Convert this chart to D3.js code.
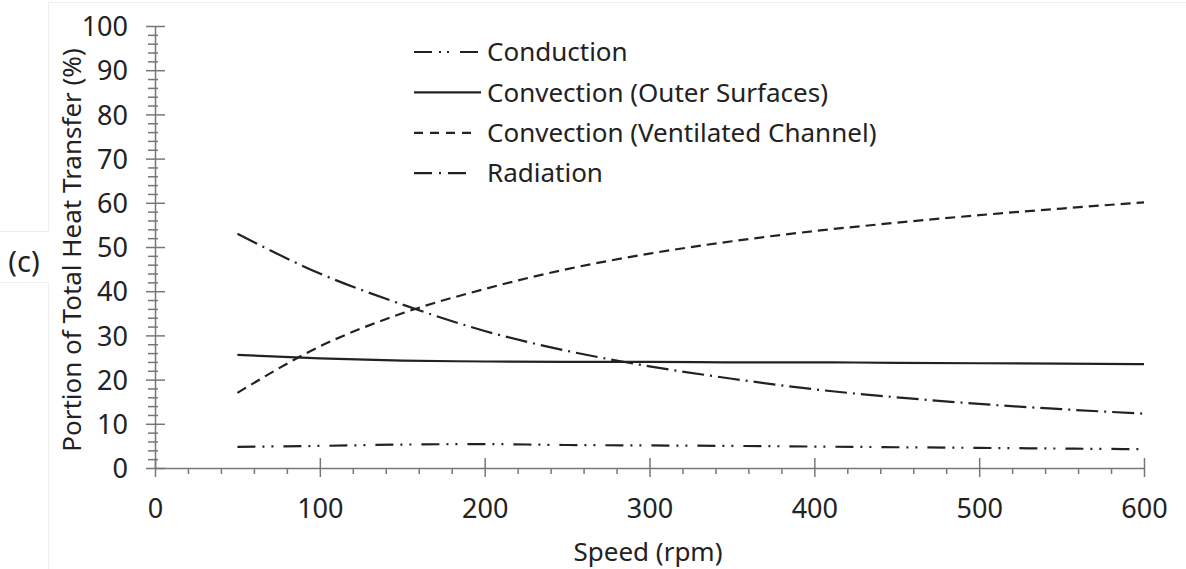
<!DOCTYPE html>
<meta charset="utf-8">
<style>
body { margin: 0; background: #fff; }
svg { font-family: "Noto Sans", sans-serif; }
.curve { fill: none; stroke: #222; stroke-width: 2.2px; }
.axis path, .axis line { stroke: #777; stroke-width: 1.5px; }
.axis text { font-family: "Noto Sans", sans-serif; font-size: 27px; fill: #222; }
.frame { stroke: #eee; stroke-width: 1px; }
</style>
<body>
<div id="chart"></div>
</body>
<script src="https://d3js.org/d3.v7.min.js"></script>
<script>

// values
var speeds = [50, 100, 150, 200, 250, 300, 350, 400, 450, 500, 550, 600];
var conduction = [4.8, 5.0, 5.3, 5.4, 5.2, 5.1, 5.0, 4.85, 4.7, 4.55, 4.4, 4.25];
var convOuter = [25.6, 24.8, 24.3, 24.1, 24.0, 24.0, 23.9, 23.9, 23.8, 23.7, 23.6, 23.5];
var convVent = [17.0, 27.5, 35.0, 40.5, 45.0, 48.5, 51.3, 53.6, 55.5, 57.2, 58.7, 60.1];
var radiation = [53.0, 44.0, 37.0, 31.0, 26.5, 23.0, 20.2, 17.8, 16.0, 14.5, 13.3, 12.3];

var seriesNames = ["Conduction", "Convection (Outer Surfaces)", "Convection (Ventilated Channel)", "Radiation"];
var seriesValues = [conduction, convOuter, convVent, radiation];
var dashes = ["18,7,2,7,2,10", null, "10,6", "22,6,2,6"];
var legendDashes = ["18,7,2,6,2,11", null, "9,7", "18,7,2,7"];
var legendLen = [67, 67, 64, 57];

var xTicks = [0, 100, 200, 300, 400, 500, 600];
var yTicks = [0, 10, 20, 30, 40, 50, 60, 70, 80, 90, 100];

var W = 1186, H = 569;
var x = d3.scaleLinear().domain([0, 600]).range([155, 1144]);
var y = d3.scaleLinear().domain([0, 100]).range([468, 26]);

var svg = d3.select("#chart").append("svg")
    .attr("width", W)
    .attr("height", H);

// faint frame lines from the pasted figure
svg.append("line").attr("class", "frame").attr("x1", 48).attr("x2", W).attr("y1", 2.5).attr("y2", 2.5);
svg.append("line").attr("class", "frame").attr("x1", 48.5).attr("x2", 48.5).attr("y1", 2).attr("y2", 231);
svg.append("line").attr("class", "frame").attr("x1", 0).attr("x2", 48).attr("y1", 231.5).attr("y2", 231.5);
svg.append("line").attr("class", "frame").attr("x1", 0).attr("x2", 48).attr("y1", 282.5).attr("y2", 282.5);
svg.append("line").attr("class", "frame").attr("x1", 48.5).attr("x2", 48.5).attr("y1", 282).attr("y2", H);

// minor ticks
var yMinor = d3.range(0, 101, 2).filter(function(d) { return d % 10 != 0; });
var xMinor = d3.range(0, 601, 20).filter(function(d) { return d % 100 != 0; });

var yMinorG = svg.append("g")
    .attr("class", "axis")
    .attr("transform", "translate(" + x(0) + ",0)")
    .call(d3.axisLeft(y).tickValues(yMinor).tickSize(7).tickFormat(""));
yMinorG.select(".domain").remove();
yMinorG.selectAll(".tick line").attr("x1", 3);

var xMinorG = svg.append("g")
    .attr("class", "axis")
    .attr("transform", "translate(0," + y(0) + ")")
    .call(d3.axisBottom(x).tickValues(xMinor).tickSize(6).tickFormat(""));
xMinorG.select(".domain").remove();

// y axis
var yAxisG = svg.append("g")
    .attr("class", "axis")
    .attr("transform", "translate(" + x(0) + ",0)")
    .call(d3.axisLeft(y).tickValues(yTicks).tickSize(9).tickSizeOuter(0).tickPadding(18));
yAxisG.selectAll(".tick line").attr("x1", 10);
yAxisG.selectAll(".tick text").attr("dy", "0.36em");

// x axis
var xAxisG = svg.append("g")
    .attr("class", "axis")
    .attr("transform", "translate(0," + y(0) + ")")
    .call(d3.axisBottom(x).tickValues(xTicks).tickSize(9).tickSizeOuter(0).tickPadding(15));
xAxisG.selectAll(".tick line").attr("y1", -10);
xAxisG.selectAll(".tick text").attr("dy", "0.95em");

// curves
var line = d3.line()
    .curve(d3.curveMonotoneX)
    .x(function(d, i) { return x(speeds[i]); })
    .y(function(d) { return y(d); });

svg.selectAll(".curve")
    .data(seriesValues)
  .enter().append("path")
    .attr("class", "curve")
    .attr("stroke-dasharray", function(d, i) { return dashes[i]; })
    .attr("d", line);

// legend
var legend = svg.append("g")
    .attr("transform", "translate(414,52)")
  .selectAll("g")
    .data(seriesNames)
  .enter().append("g")
    .attr("transform", function(d, i) { return "translate(0," + (i * 40.4) + ")"; });

legend.append("line")
    .attr("x1", 0)
    .attr("x2", function(d, i) { return legendLen[i]; })
    .attr("stroke", "#222")
    .attr("stroke-width", 2.2)
    .attr("stroke-dasharray", function(d, i) { return legendDashes[i]; });

legend.append("text")
    .attr("x", 73)
    .attr("dy", "0.35em")
    .style("font-size", "26px")
    .style("fill", "#222")
    .text(function(d) { return d; });

// axis titles
svg.append("text")
    .attr("x", 648)
    .attr("y", 561)
    .attr("text-anchor", "middle")
    .style("font-size", "26px")
    .style("fill", "#222")
    .text("Speed (rpm)");

svg.append("text")
    .attr("transform", "translate(81,250) rotate(-90)")
    .attr("text-anchor", "middle")
    .style("font-size", "26px")
    .style("fill", "#222")
    .text("Portion of Total Heat Transfer (%)");

svg.append("text")
    .attr("x", 24)
    .attr("y", 262)
    .attr("dy", "0.35em")
    .attr("text-anchor", "middle")
    .style("font-size", "29px")
    .style("fill", "#222")
    .text("(c)");

</script>
